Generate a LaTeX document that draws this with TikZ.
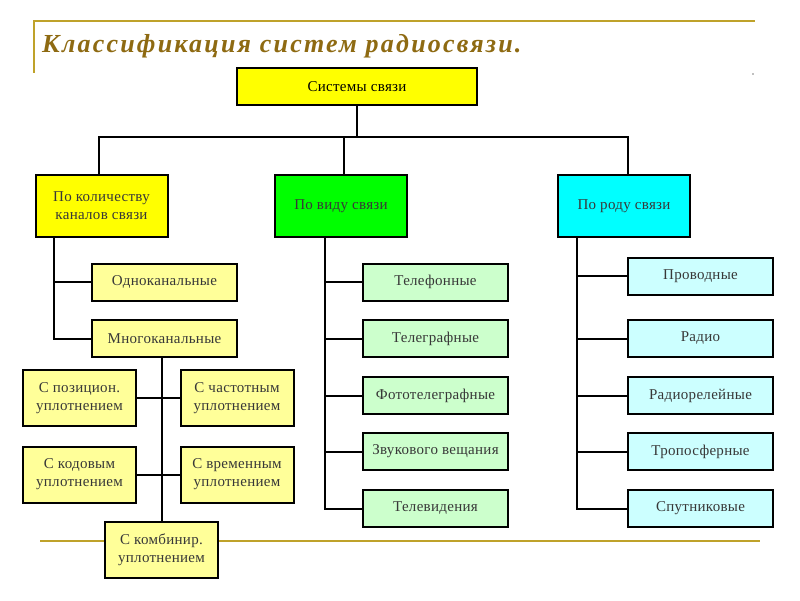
\documentclass[tikz,border=0pt]{standalone}
\usepackage{fontspec}
\setmainfont{Liberation Serif}
\newfontfamily\boxfont[LetterSpace=2]{Liberation Serif}
\newfontfamily\titlefont[LetterSpace=8.5]{Liberation Serif}
\definecolor{gold}{HTML}{BFA22A}
\definecolor{titlec}{HTML}{8E6A12}
\definecolor{txt}{HTML}{383838}
\definecolor{yel}{HTML}{FFFF00}
\definecolor{lyel}{HTML}{FFFF99}
\definecolor{grn}{HTML}{00FF00}
\definecolor{lgrn}{HTML}{CCFFCC}
\definecolor{cyn}{HTML}{00FFFF}
\definecolor{lcyn}{HTML}{CCFFFF}
\tikzset{
  box/.style={draw=black, line width=2pt, inner sep=0pt, align=center, text=txt,
    font=\boxfont\fontsize{15}{18}\selectfont},
  wbox/.style={box, minimum width=145pt, minimum height=37pt},
  tbox/.style={box, minimum width=132pt, minimum height=62pt},
  sbox/.style={box, minimum width=113pt, minimum height=56pt, fill=lyel},
  conn/.style={line width=2pt},
  goldline/.style={draw=gold, line width=2pt}
}
\begin{document}
\begin{tikzpicture}[x=1pt,y=-1pt]
\useasboundingbox (0,0) rectangle (800,600);
% decoration
\draw[goldline] (34,21) -- (755,21);
\draw[goldline] (34,20) -- (34,73);
\draw[goldline] (40,541) -- (760,541);
\fill[gray] (753,74) circle (0.9);
\node[anchor=base west, text=titlec, inner sep=0pt, font=\titlefont\fontsize{26}{29}\selectfont\bfseries\itshape] (title) at (42,52) {Классификация систем радиосвязи.};
% root
\node[box, fill=yel, minimum width=240pt, minimum height=37pt, text=black] (root) at (357,86.5) {Системы связи};
% level 1
\node[tbox, fill=yel] (c1) at (101.5,206) {По количеству\\каналов связи};
\node[tbox, fill=grn] (c2) at (341,206) {По виду связи};
\node[tbox, fill=cyn] (c3) at (624,206) {По роду связи};
% bus
\coordinate (bus) at (357,137);
\draw[conn] (root.south) -- (bus);
\draw[conn] (c1.north -| 99,0) |- (bus) -| (c3.north -| 628,0);
\draw[conn] (c2.north -| 344,0) -- (344,137);
% left branch
\node[wbox, fill=lyel] (a1) at (164.5,282) {Одноканальные};
\node[wbox, fill=lyel] (a2) at (164.5,338.5) {Многоканальные};
\coordinate (t1) at (54,237);
\draw[conn] (t1) |- (a2.west);
\draw[conn] (a1.west) -- (a1.west -| t1);
% multichannel sub
\node[sbox] (m1) at (79.5,398) {С позицион.\\уплотнением};
\node[sbox] (m2) at (237,398) {С частотным\\уплотнением};
\node[sbox] (m3) at (79.5,474.5) {С кодовым\\уплотнением};
\node[sbox] (m4) at (237,474.5) {С временным\\уплотнением};
\node[sbox] (m5) at (161.5,549.5) {С комбинир.\\уплотнением};
\coordinate (t4) at (162,357);
\draw[conn] (t4) -- (t4 |- m5.north);
\draw[conn] (m1.east) -- (m2.west);
\draw[conn] (m3.east) -- (m4.west);
% middle branch
\node[wbox, fill=lgrn] (b1) at (435.5,282) {Телефонные};
\node[wbox, fill=lgrn] (b2) at (435.5,338.5) {Телеграфные};
\node[wbox, fill=lgrn] (b3) at (435.5,395.5) {Фототелеграфные};
\node[wbox, fill=lgrn] (b4) at (435.5,451.5) {Звукового вещания};
\node[wbox, fill=lgrn] (b5) at (435.5,508.5) {Телевидения};
\coordinate (t2) at (325,237);
\draw[conn] (t2) |- (b5.west);
\foreach \n in {b1,b2,b3,b4} \draw[conn] (\n.west) -- (\n.west -| t2);
% right branch
\node[wbox, fill=lcyn] (r1) at (700.5,276) {Проводные};
\node[wbox, fill=lcyn] (r2) at (700.5,338.5) {Радио};
\node[wbox, fill=lcyn] (r3) at (700.5,395.5) {Радиорелейные};
\node[wbox, fill=lcyn] (r4) at (700.5,451.5) {Тропосферные};
\node[wbox, fill=lcyn] (r5) at (700.5,508.5) {Спутниковые};
\coordinate (t3) at (577,237);
\draw[conn] (t3) |- (r5.west);
\foreach \n in {r1,r2,r3,r4} \draw[conn] (\n.west) -- (\n.west -| t3);
\end{tikzpicture}
\end{document}
